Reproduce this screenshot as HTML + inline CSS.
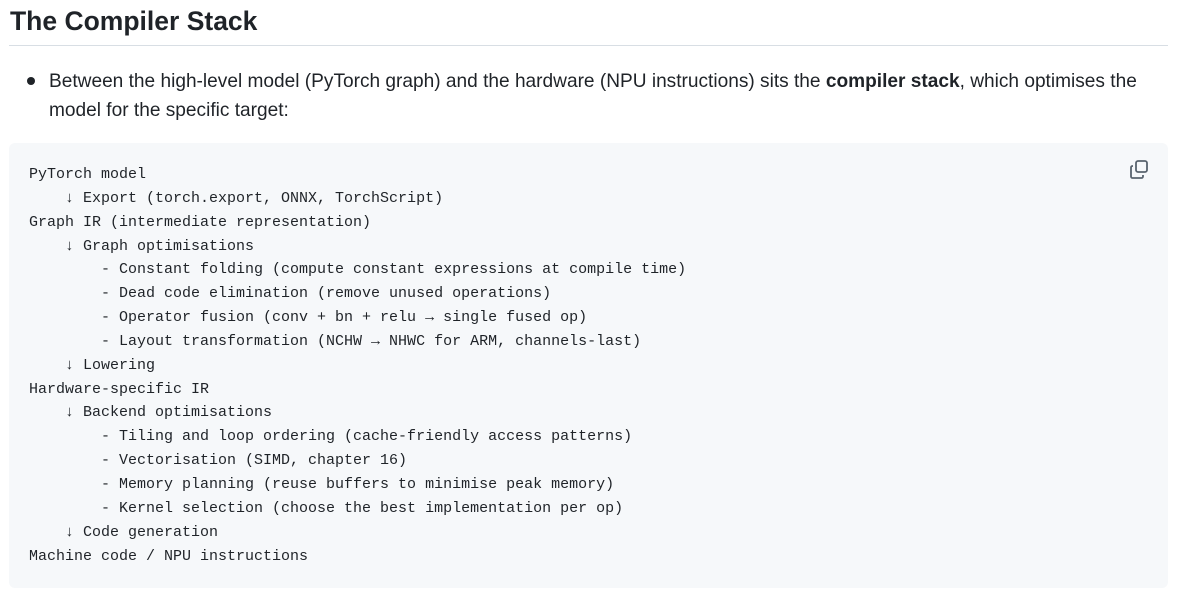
<!DOCTYPE html>
<html><head><meta charset="utf-8"><style>
body{margin:0;background:#fff;width:1199px;height:593px;overflow:hidden;font-family:"Liberation Sans",sans-serif;color:#1f2328}
h2{position:absolute;left:10px;top:3px;margin:0;font-size:26.5px;font-weight:600;line-height:36px}
.rule{position:absolute;left:9px;top:45px;width:1159px;height:1px;background:#d8dee4}
.bul{position:absolute;left:49px;top:67px;font-size:19.1px;line-height:29px;width:1120px}
.dot{position:absolute;left:27px;top:77px;width:8px;height:8px;border-radius:50%;background:#1f2328}
.code{position:absolute;left:9px;top:143px;width:1159px;height:445px;background:#f6f8fa;border-radius:6px}
pre{position:absolute;left:29px;top:163px;margin:0;font-family:"Liberation Mono",monospace;font-size:15px;line-height:23.85px;color:#1f2328}
svg{position:absolute;left:1128px;top:159px}
</style></head><body>
<h2>The Compiler Stack</h2>
<div class="rule"></div>
<div class="dot"></div>
<div class="bul">Between the high-level model (PyTorch graph) and the hardware (NPU instructions) sits the <b>compiler stack</b>, which optimises the model for the specific target:</div>
<div class="code"></div>
<pre>PyTorch model
    ↓ Export (torch.export, ONNX, TorchScript)
Graph IR (intermediate representation)
    ↓ Graph optimisations
        - Constant folding (compute constant expressions at compile time)
        - Dead code elimination (remove unused operations)
        - Operator fusion (conv + bn + relu → single fused op)
        - Layout transformation (NCHW → NHWC for ARM, channels-last)
    ↓ Lowering
Hardware-specific IR
    ↓ Backend optimisations
        - Tiling and loop ordering (cache-friendly access patterns)
        - Vectorisation (SIMD, chapter 16)
        - Memory planning (reuse buffers to minimise peak memory)
        - Kernel selection (choose the best implementation per op)
    ↓ Code generation
Machine code / NPU instructions</pre>
<svg width="22" height="22" viewBox="0 0 22 22" fill="none" stroke="#59636e" stroke-width="1.8">
<rect x="8" y="2" width="11" height="11" rx="2"/>
<path d="M5 7H4.5A1.5 1.5 0 0 0 3 8.5V17.5A1.5 1.5 0 0 0 4.5 19H13.5A1.5 1.5 0 0 0 15 17.5V16"/>
</svg>
</body></html>
